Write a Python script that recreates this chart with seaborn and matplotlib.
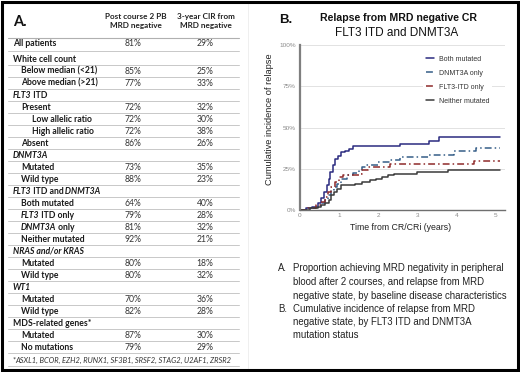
import numpy as np
import pandas as pd
import matplotlib
matplotlib.use("Agg")
import matplotlib.pyplot as plt
import seaborn as sns

# ---------------- data ----------------
row_labels = ["All patients", "White cell count", "Below median (<21)", "Above median (>21)",
              "_FLT3_ ITD", "Present", "Low allelic ratio", "High allelic ratio", "Absent",
              "_DNMT3A_", "Mutated", "Wild type",
              "_FLT3_ ITD and _DNMT3A_", "Both mutated", "_FLT3_ ITD only", "_DNMT3A_ only", "Neither mutated",
              "_NRAS and/or KRAS_", "Mutated", "Wild type",
              "_WT1_", "Mutated", "Wild type",
              "MDS-related genes*", "Mutated", "No mutations"]
row_indent = [0, 0, 1, 1, 0, 1, 2, 2, 1, 0, 1, 1, 0, 1, 1, 1, 1, 0, 1, 1, 0, 1, 1, 0, 1, 1]
mrd_neg_pct = [81, None, 85, 77, None, 72, 72, 72, 86, None, 73, 88, None, 64, 79, 81, 92,
               None, 80, 80, None, 70, 82, None, 87, 79]
cir3_pct = [29, None, 25, 33, None, 32, 30, 38, 26, None, 35, 23, None, 40, 28, 32, 21,
            None, 18, 32, None, 36, 28, None, 30, 29]
col_headers = ["Post course 2 PB\nMRD negative", "3-year CIR from\nMRD negative"]
footnote_genes = "ASXL1, BCOR, EZH2, RUNX1, SF3B1, SRSF2, STAG2, U2AF1, ZRSR2"

groups = ["Both mutated", "DNMT3A only", "FLT3-ITD only", "Neither mutated"]
both_t = [0, 0.15, 0.3, 0.45, 0.55, 0.62, 0.68, 0.73, 0.78, 0.84, 0.9, 0.97, 1.05, 1.15, 1.25, 1.35, 2.55, 3.3, 3.55, 5.12]
both_v = [0, 1, 2, 4, 7, 11, 15, 19, 23, 27, 31, 33, 35, 36, 37, 39, 40, 42, 44, 44]
dnmt_t = [0, 0.2, 0.4, 0.55, 0.65, 0.72, 0.8, 0.87, 0.95, 1.05, 1.2, 1.35, 1.5, 1.6, 1.7, 2.0, 2.3, 2.55, 3.3, 3.95, 4.5, 5.12]
dnmt_v = [0, 1, 2, 4, 6, 9, 12, 14, 16, 19, 21, 22.5, 24, 26, 27.5, 29, 30.5, 32, 33.5, 36, 37.5, 37.5]
flt3_t = [0, 0.2, 0.4, 0.55, 0.65, 0.72, 0.8, 0.9, 1.0, 1.1, 1.5, 1.6, 1.75, 2.3, 4.45, 5.12]
flt3_v = [0, 1, 3, 5, 8, 11, 14, 17, 20, 21, 22, 24, 26, 28, 30, 30]
neit_t = [0, 0.25, 0.45, 0.55, 0.65, 0.75, 0.8, 0.87, 0.95, 1.05, 1.4, 1.6, 1.8, 1.95, 2.1, 2.25, 2.4, 3.0, 3.8, 5.12]
neit_v = [0, 1, 2, 3, 4, 6, 9, 11, 13, 15, 16, 17, 18, 19, 20, 21, 22, 23, 24.5, 24.5]

caption_lines = [("A.", "Proportion achieving MRD negativity in peripheral"),
                 ("", "blood after 2 courses, and relapse from MRD"),
                 ("", "negative state, by baseline disease characteristics"),
                 ("B.", "Cumulative incidence of relapse from MRD"),
                 ("", "negative state, by FLT3 ITD and DNMT3A"),
                 ("", "mutation status")]

# ---------------- style ----------------
sns.set_theme(style="white")
plt.rcParams["font.family"] = ["Liberation Sans", "DejaVu Sans"]

W, H = 520, 372
fig = plt.figure(figsize=(W / 100, H / 100), dpi=100)
bg = fig.add_axes([0, 0, 1, 1])
bg.set_xlim(0, W)
bg.set_ylim(H, 0)
bg.axis("off")

TFONT = ["Lato", "DejaVu Sans"]
TS = 6.2


def rich(ax, x, y, text, size, family, bold, color="#1a1a1a"):
    parts = text.split("_")
    prev = None
    carry = ""
    for i, s in enumerate(parts):
        s = carry + s
        carry = ""
        if s.strip() == "":
            carry = s
            continue
        stripped = s.rstrip(" ")
        carry = s[len(stripped):]
        s = stripped
        kw = dict(fontsize=size, family=family, color=color,
                  style="italic" if i % 2 == 1 else "normal",
                  weight="bold" if bold else "normal", ha="left", va="bottom")
        if prev is None:
            prev = ax.text(x, y, s, **{**kw, "va": "baseline"})
        else:
            prev = ax.annotate(s, xy=(1, 0), xycoords=prev, xytext=(-0.6, 0),
                               textcoords="offset points", **kw)
    return prev


# ---- panel A: table ----
bg.text(13, 22, "A.", fontsize=10.5, weight="bold", family=TFONT, va="center", ha="left", color="#111")
bg.text(136, 21, col_headers[0], fontsize=5.9, weight="bold", family=TFONT, ha="center", va="center",
        color="#222", linespacing=1.4)
bg.text(206, 21, col_headers[1], fontsize=5.9, weight="bold", family=TFONT, ha="center", va="center",
        color="#222", linespacing=1.4)
line_c = "#c8c8c8"
bg.plot([8, 239], [37.5, 37.5], color="#b0b0b0", lw=0.8)
ys = [43] + [59 + 12.0 * (k - 1) for k in range(1, len(row_labels))]
indent_px = [13, 21, 32]
for k, lab in enumerate(row_labels):
    y = ys[k]
    rich(bg, indent_px[row_indent[k]], y + 2.9, lab, TS, TFONT, True)
    if mrd_neg_pct[k] is not None:
        bg.text(133, y, f"{mrd_neg_pct[k]}%", fontsize=TS, family=TFONT, ha="center", va="center", color="#333")
        bg.text(205, y, f"{cir3_pct[k]}%", fontsize=TS, family=TFONT, ha="center", va="center", color="#333")
    yl = (ys[k] + ys[k + 1]) / 2 if k + 1 < len(ys) else y + 6
    bg.plot([8, 239], [yl, yl], color=line_c, lw=0.7)
rich(bg, 13, 362.5, "*_" + footnote_genes + "_", 5.4, TFONT, False, color="#333")
bg.plot([8, 239], [366, 366], color=line_c, lw=0.7)
bg.plot([248, 248], [3, 369], color="#ececec", lw=0.6)

# ---- panel B: chart ----
bg.text(279, 20, "B.", fontsize=9.5, weight="bold", va="center", ha="left", color="#111")
bg.text(398, 18, "Relapse from MRD negative CR", fontsize=7.6, weight="bold", va="center", ha="center", color="#111")
bg.text(397, 33, "FLT3 ITD and DNMT3A", fontsize=8.5, va="center", ha="center", color="#111")

df = pd.concat([
    pd.DataFrame({"t": both_t, "v": np.array(both_v) / 100, "group": groups[0]}),
    pd.DataFrame({"t": dnmt_t, "v": np.array(dnmt_v) / 100, "group": groups[1]}),
    pd.DataFrame({"t": flt3_t, "v": np.array(flt3_v) / 100, "group": groups[2]}),
    pd.DataFrame({"t": neit_t, "v": np.array(neit_v) / 100, "group": groups[3]}),
], ignore_index=True)

palette = {groups[0]: "#2b2b80", groups[1]: "#355e88", groups[2]: "#8e2a2a", groups[3]: "#3a3a3a"}
dashes = {groups[0]: "", groups[1]: (4.5, 2, 1, 2), groups[2]: (4.5, 2, 1, 2), groups[3]: ""}

ax = fig.add_axes([300 / W, 1 - 210 / H, 205 / W, 165 / H])
sns.lineplot(data=df, x="t", y="v", hue="group", style="group", hue_order=groups, style_order=groups,
             palette=palette, dashes=dashes, estimator=None, sort=False, drawstyle="steps-post",
             linewidth=1.1, ax=ax)
ax.set_xlim(0, 5.25)
ax.set_ylim(0, 1.0)
ax.set_yticks([0, 0.25, 0.5, 0.75, 1.0])
ax.set_yticklabels(["0%", "25%", "50%", "75%", "100%"])
ax.set_xticks([0, 1, 2, 3, 4, 5])
ax.tick_params(axis="both", length=0, labelsize=4.6, labelcolor="#8a8a8a")
ax.tick_params(axis="y", pad=3)
ax.tick_params(axis="x", pad=2.5)
ax.yaxis.grid(True, color="#e2e2e2", lw=0.7)
ax.set_axisbelow(True)
for s in ["top", "right"]:
    ax.spines[s].set_visible(False)
ax.spines["left"].set_color("#7f7f7f")
ax.spines["left"].set_linewidth(1.6)
ax.spines["bottom"].set_color("#6f6f6f")
ax.spines["bottom"].set_linewidth(1.0)
ax.set_xlabel("Time from CR/CRi (years)", fontsize=6.3, color="#222")
ax.xaxis.set_label_coords(0.49, -0.08)
ax.set_ylabel("Cumulative incidence of relapse", fontsize=6.7, color="#222")
ax.yaxis.set_label_coords(-0.125, 0.55)

sns.move_legend(ax, "upper left", bbox_to_anchor=(420 / W, 1 - 50 / H), bbox_transform=fig.transFigure,
                title=None, frameon=True, facecolor="white", edgecolor="none", framealpha=1,
                fontsize=5, handlelength=1.2, handletextpad=0.7, labelspacing=1.0, borderpad=0.35)
for t in ax.get_legend().get_texts():
    t.set_color("#333")

# caption
cy = [268.3, 282.3, 295.7, 308.8, 322.3, 335.3]
for (lab, txt), y in zip(caption_lines, cy):
    if lab:
        bg.text(278, y, lab, fontsize=6.9, va="center", ha="left", color="#222")
    bg.text(293, y, txt, fontsize=6.9, va="center", ha="left", color="#222")

# outer border
bg.plot([1.5, 517.5, 517.5, 1.5, 1.5], [1.5, 1.5, 369.5, 369.5, 1.5], color="black", lw=2.2,
        solid_joinstyle="miter", clip_on=False)

fig.savefig("out.png", dpi=100)
